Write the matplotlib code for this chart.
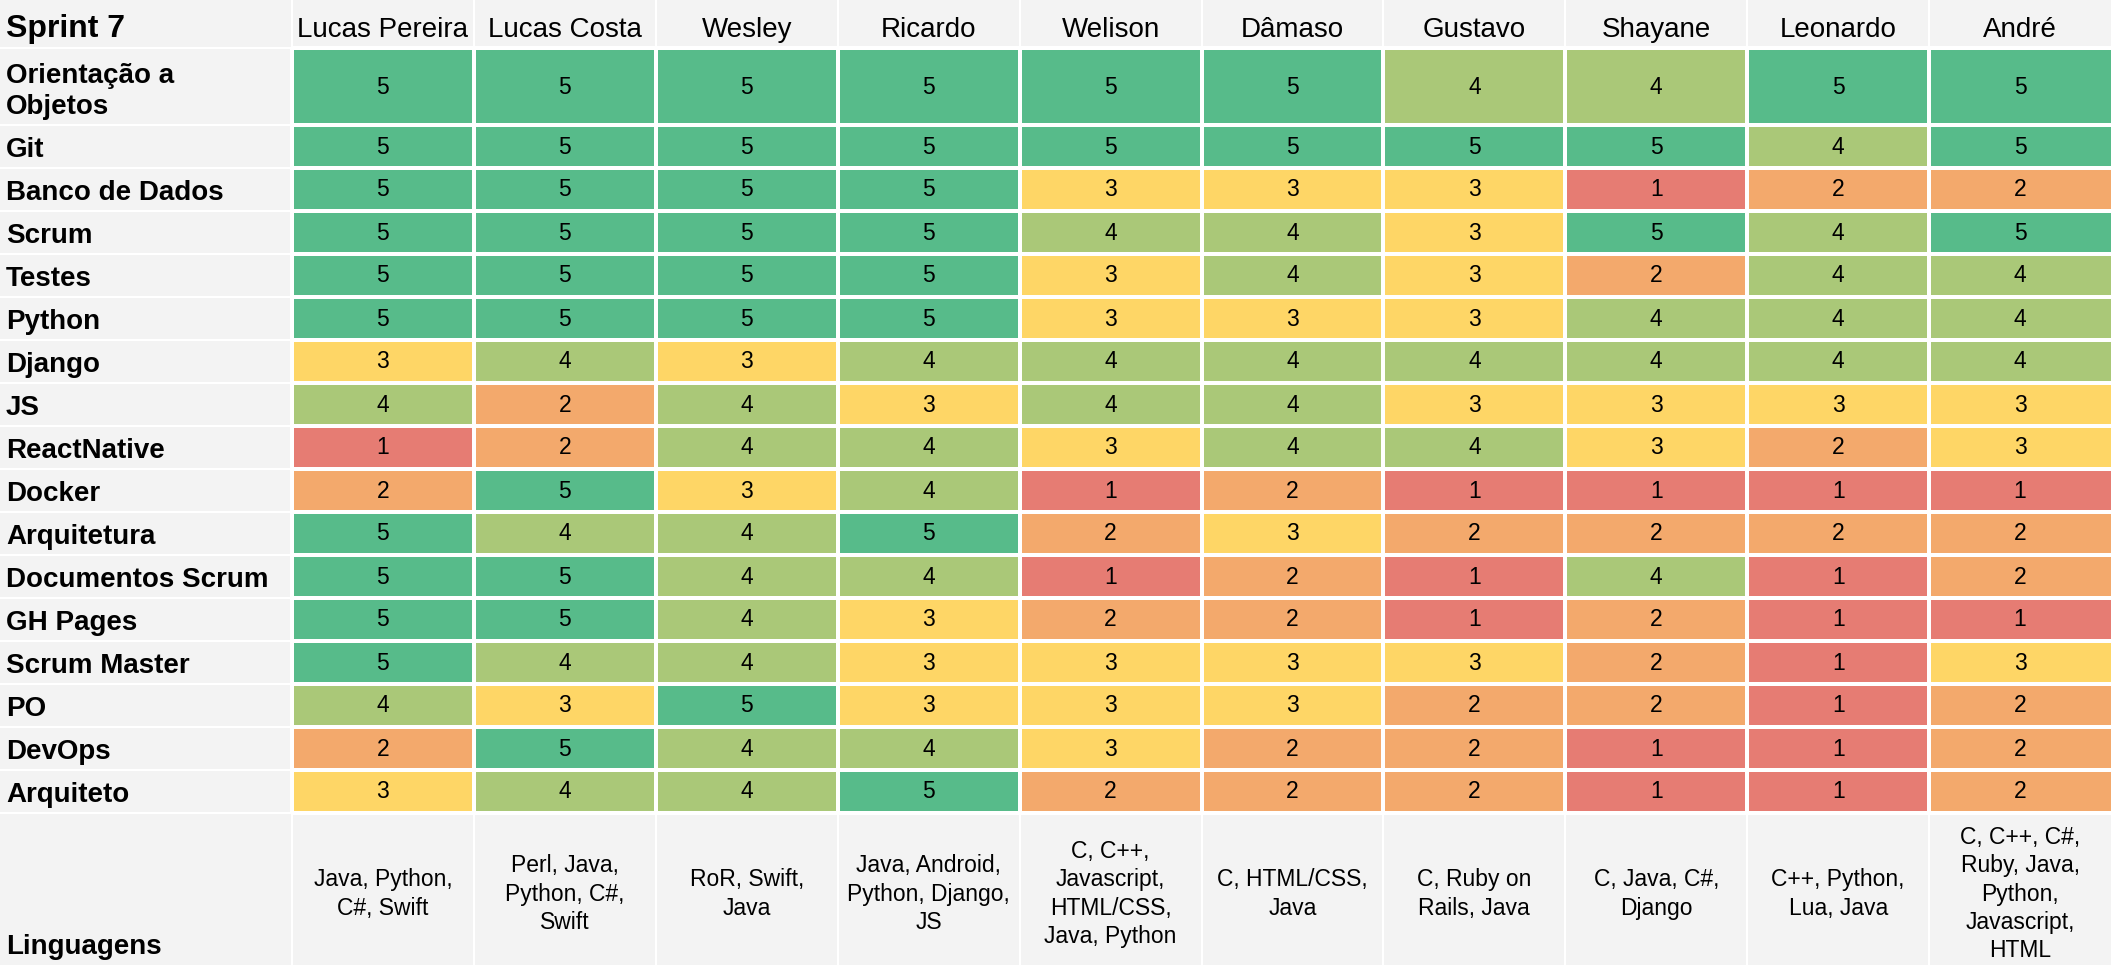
import matplotlib
matplotlib.use("Agg")
import matplotlib.pyplot as plt
from matplotlib.colors import LinearSegmentedColormap, Normalize
from matplotlib.patches import Rectangle
import numpy as np

plt.rcParams['font.family'] = ['Liberation Sans', 'DejaVu Sans']

title = "Sprint 7"
people = ["Lucas Pereira", "Lucas Costa", "Wesley", "Ricardo", "Welison",
          "Dâmaso", "Gustavo", "Shayane", "Leonardo", "André"]
skills = ["Orientação a\nObjetos", "Git", "Banco de Dados", "Scrum", "Testes",
          "Python", "Django", "JS", "ReactNative", "Docker", "Arquitetura",
          "Documentos Scrum", "GH Pages", "Scrum Master", "PO", "DevOps",
          "Arquiteto"]
scores = [
    [5, 5, 5, 5, 5, 5, 4, 4, 5, 5],
    [5, 5, 5, 5, 5, 5, 5, 5, 4, 5],
    [5, 5, 5, 5, 3, 3, 3, 1, 2, 2],
    [5, 5, 5, 5, 4, 4, 3, 5, 4, 5],
    [5, 5, 5, 5, 3, 4, 3, 2, 4, 4],
    [5, 5, 5, 5, 3, 3, 3, 4, 4, 4],
    [3, 4, 3, 4, 4, 4, 4, 4, 4, 4],
    [4, 2, 4, 3, 4, 4, 3, 3, 3, 3],
    [1, 2, 4, 4, 3, 4, 4, 3, 2, 3],
    [2, 5, 3, 4, 1, 2, 1, 1, 1, 1],
    [5, 4, 4, 5, 2, 3, 2, 2, 2, 2],
    [5, 5, 4, 4, 1, 2, 1, 4, 1, 2],
    [5, 5, 4, 3, 2, 2, 1, 2, 1, 1],
    [5, 4, 4, 3, 3, 3, 3, 2, 1, 3],
    [4, 3, 5, 3, 3, 3, 2, 2, 1, 2],
    [2, 5, 4, 4, 3, 2, 2, 1, 1, 2],
    [3, 4, 4, 5, 2, 2, 2, 1, 1, 2],
]
lang_label = "Linguagens"
languages = [
    "Java, Python,\nC#, Swift",
    "Perl, Java,\nPython, C#,\nSwift",
    "RoR, Swift,\nJava",
    "Java, Android,\nPython, Django,\nJS",
    "C, C++,\nJavascript,\nHTML/CSS,\nJava, Python",
    "C, HTML/CSS,\nJava",
    "C, Ruby on\nRails, Java",
    "C, Java, C#,\nDjango",
    "C++, Python,\nLua, Java",
    "C, C++, C#,\nRuby, Java,\nPython,\nJavascript,\nHTML",
]

# ---- layout (pixel-like data units) ----
W, H = 2111, 965
LABEL_W = 292
ncol = len(people)
col_w = (W - LABEL_W) / ncol
x_edges = np.array([LABEL_W + i * col_w for i in range(ncol + 1)])
HEADER_H = 48
row_h = [77] + [43] * (len(skills) - 1)
y_edges = np.concatenate([[HEADER_H], HEADER_H + np.cumsum(row_h)])
LANG_TOP = y_edges[-1]

GRAY = "#f3f3f3"
GAP = 1.0

fig = plt.figure(figsize=(W / 100, H / 100), dpi=100)
fig.patch.set_facecolor("white")
ax = fig.add_axes([0, 0, 1, 1])
ax.set_xlim(0, W)
ax.set_ylim(H, 0)
ax.axis("off")

def gray_cell(x0, x1, y0, y1):
    ax.add_patch(Rectangle((x0 + GAP, y0 + GAP), x1 - x0 - 2 * GAP, y1 - y0 - 2 * GAP,
                           facecolor=GRAY, edgecolor="none"))

# header row
gray_cell(-5, LABEL_W, -5, HEADER_H)
for i in range(ncol):
    gray_cell(x_edges[i], x_edges[i + 1] + (5 if i == ncol - 1 else 0), -5, HEADER_H)
# label column
for j in range(len(skills)):
    gray_cell(-5, LABEL_W, y_edges[j], y_edges[j + 1])
# language row
gray_cell(-5, LABEL_W, LANG_TOP, H + 5)
for i in range(ncol):
    gray_cell(x_edges[i], x_edges[i + 1] + (5 if i == ncol - 1 else 0), LANG_TOP, H + 5)

# heatmap
cmap = LinearSegmentedColormap.from_list("sheets", ["#e67c73", "#ffd666", "#57bb8a"])
norm = Normalize(1, 5)
data = np.array(scores, dtype=float)
xe = x_edges.copy(); xe[-1] = W + 5
ax.pcolormesh(xe, y_edges, data, cmap=cmap, norm=norm,
              edgecolors="white", linewidth=1.5)

# texts
ax.text(6, HEADER_H - 11, title, fontsize=23, fontweight="bold", va="baseline", ha="left")
for i, name in enumerate(people):
    ax.text((x_edges[i] + x_edges[i + 1]) / 2, HEADER_H - 11, name, fontsize=20,
            va="baseline", ha="center")
for j, sk in enumerate(skills):
    ax.text(6, y_edges[j + 1] - 11, sk, fontsize=20, fontweight="bold",
            va="baseline", ha="left", linespacing=1.27)
    for i in range(ncol):
        ax.text((x_edges[i] + x_edges[i + 1]) / 2, (y_edges[j] + y_edges[j + 1]) / 2 + 0.5,
                str(scores[j][i]), fontsize=16.5, ha="center", va="center")
ax.text(6, H - 11, lang_label, fontsize=20, fontweight="bold", va="baseline", ha="left")
for i, lg in enumerate(languages):
    ax.text((x_edges[i] + x_edges[i + 1]) / 2, (LANG_TOP + H) / 2 + 5, lg,
            fontsize=16.5, ha="center", va="center", linespacing=1.28)

fig.savefig("out.png", dpi=100, facecolor="white")
